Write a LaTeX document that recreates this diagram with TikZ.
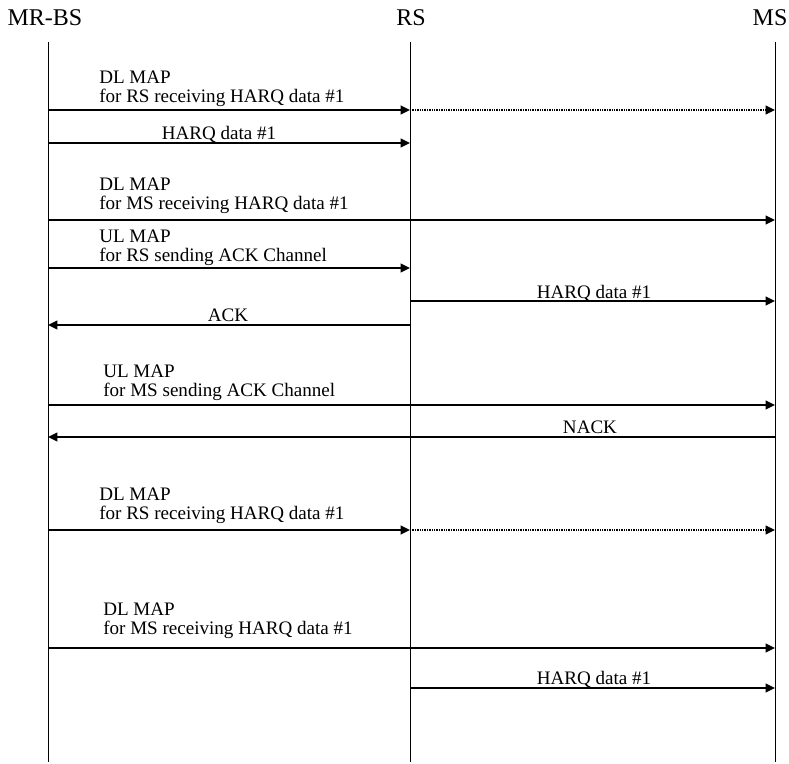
\documentclass[tikz,border=0pt]{standalone}
\usepackage{fontspec}
\setmainfont{Liberation Serif}
\usetikzlibrary{arrows.meta}

\begin{document}
\begin{tikzpicture}[x=0.75pt,y=-0.75pt,>={Triangle[length=7pt,width=6.5pt]},
      life/.style={line width=0.7pt},
      msg/.style={->,line width=1.4pt},
      fwd/.style={->,line width=1.1pt,dash pattern=on 1pt off 0.8pt},
      hd/.style={font=\fontsize{18}{21}\selectfont,anchor=base,inner sep=0pt},
      lb/.style={font=\fontsize{14.3}{14.3}\selectfont,align=left,anchor=south west,inner sep=0pt},
      lc/.style={font=\fontsize{14.3}{14.3}\selectfont,anchor=base,inner sep=0pt}]
    \useasboundingbox (0,0) rectangle (789,764);
    % stations
    \node[hd] (bs) at (45,25) {MR-BS};
    \node[hd] (rs) at (411,25) {RS};
    \node[hd] (ms) at (770,25) {MS};
    \coordinate (bsT) at (48,42);  \coordinate (bsB) at (48,762);
    \coordinate (rsT) at (410,42); \coordinate (rsB) at (410,762);
    \coordinate (msT) at (775,42); \coordinate (msB) at (775,762);
    \draw[life] (bsT) -- (bsB);
    \draw[life] (rsT) -- (rsB);
    \draw[life] (msT) -- (msB);
    % message rows
    \foreach \n/\y in {1/110,2/143,3/220,4/268,5/301,6/325,7/405,8/437,9/530,10/648,11/688}
      \coordinate (m\n) at (0,\y);
    \draw[msg] (bsT |- m1) -- (rsT |- m1);
    \draw[fwd] (rsT |- m1) -- (msT |- m1);
    \node[lb] (l1) at (99,107) {DL MAP\\for RS receiving HARQ data \#1};
    \draw[msg] (bsT |- m2) -- (rsT |- m2);
    \node[lc] (l2) at (219,139) {HARQ data \#1};
    \draw[msg] (bsT |- m3) -- (msT |- m3);
    \node[lb] (l3) at (99,214) {DL MAP\\for MS receiving HARQ data \#1};
    \draw[msg] (bsT |- m4) -- (rsT |- m4);
    \node[lb] (l4) at (99,266) {UL MAP\\for RS sending ACK Channel};
    \draw[msg] (rsT |- m5) -- (msT |- m5);
    \node[lc] (l5) at (594,298) {HARQ data \#1};
    \draw[msg] (rsT |- m6) -- (bsT |- m6);
    \node[lc] (l6) at (228,321) {ACK};
    \draw[msg] (bsT |- m7) -- (msT |- m7);
    \node[lb] (l7) at (103,401) {UL MAP\\for MS sending ACK Channel};
    \draw[msg] (msT |- m8) -- (bsT |- m8);
    \node[lc] (l8) at (590,433) {NACK};
    \draw[msg] (bsT |- m9) -- (rsT |- m9);
    \draw[fwd] (rsT |- m9) -- (msT |- m9);
    \node[lb] (l9) at (99,524) {DL MAP\\for RS receiving HARQ data \#1};
    \draw[msg] (bsT |- m10) -- (msT |- m10);
    \node[lb] (l10) at (103,639) {DL MAP\\for MS receiving HARQ data \#1};
    \draw[msg] (rsT |- m11) -- (msT |- m11);
    \node[lc] (l11) at (594,684) {HARQ data \#1};
\end{tikzpicture}
\end{document}
